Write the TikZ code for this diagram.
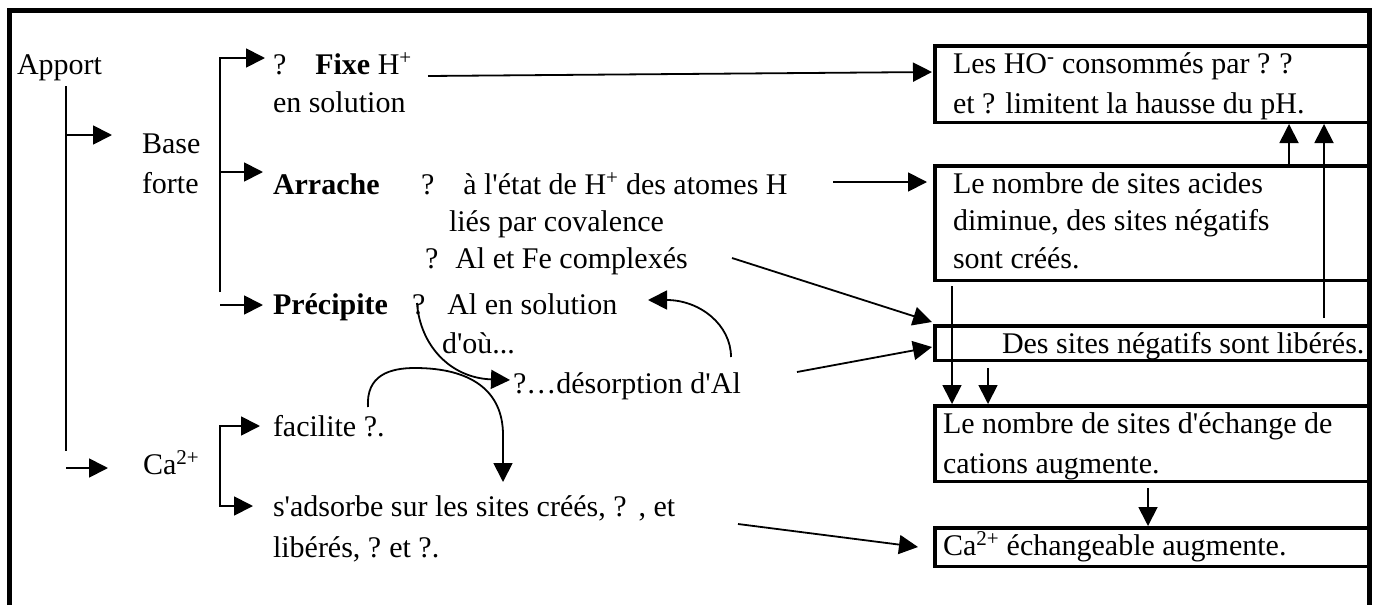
\documentclass[tikz,border=0pt]{standalone}
\usepackage{fontspec}
\setmainfont{Liberation Serif}[Ligatures=TeXOff]
\usetikzlibrary{arrows.meta}
\begin{document}
\begin{tikzpicture}[x=1pt,y=-1pt,
  txt/.style={anchor=base west,inner sep=0pt,outer sep=0pt,font=\fontsize{30}{37.5}\selectfont},
  box/.style={draw,line width=3.5pt,anchor=north west,inner sep=0pt,outer sep=0pt,minimum width=434.75pt},
  conn/.style={line width=1.8pt},
  arr/.style={line width=1.8pt,-{Triangle[length=19pt,width=19pt]}},
  frame/.style={line width=5pt}]
\useasboundingbox (0,0) rectangle (1378,605);
% frame
\coordinate (fbl) at (9.5,605);
\coordinate (ftl) at (9.5,10.5);
\coordinate (ftr) at (1369.5,10.5);
\coordinate (fbr) at (1369.5,605);
\draw[frame] (fbl) -- (ftl) -- (ftr) -- (fbr);

% boxes
\node[box,minimum height=76.5pt] (bA) at (934.75,45.75) {};
\node[box,minimum height=114.5pt] (bB) at (934.75,165.75) {};
\node[box,minimum height=34.5pt] (bC) at (934.75,325.75) {};
\node[box,minimum height=75.5pt] (bD) at (934.75,405.75) {};
\node[box,minimum height=38.5pt] (bE) at (934.75,527.75) {};

% box texts
\node[txt] (tA1) at (953,73) {Les HO\textsuperscript{-} consommés par ?\hspace{9pt}?};
\node[txt] (tA2) at (953,113) {et ?\hspace{10pt}limitent la hausse du pH.};
\node[txt] (tB1) at (953,193) {Le nombre de sites acides};
\node[txt] (tB2) at (953,230) {diminue, des sites négatifs};
\node[txt] (tB3) at (953,268) {sont créés.};
\node[txt] (tC) at (1002,353) {Des sites négatifs sont libérés.};
\node[txt] (tD1) at (943,433) {Le nombre de sites d'échange de};
\node[txt] (tD2) at (943,473) {cations augmente.};
\node[txt] (tE) at (943,555) {Ca\textsuperscript{2+} échangeable augmente.};

% left texts
\node[txt] (apport) at (17,74) {Apport};
\node[txt] (base) at (142,153) {Base};
\node[txt] (forte) at (142,193) {forte};
\node[txt] (fixe) at (273,74) {?\hspace{29pt}\textbf{Fixe} H\textsuperscript{+}};
\node[txt] (ensol) at (273,112) {en solution};
\node[txt] (arrache) at (273,194) {\textbf{Arrache}};
\node[txt] (etat) at (421,194) {?\hspace{29pt}à l'état de H\textsuperscript{+} des atomes H};
\node[txt] (lies) at (449,231) {liés par covalence};
\node[txt] (alfe) at (425,268) {?\hspace{17pt}Al et Fe complexés};
\node[txt] (precip) at (273,314) {\textbf{Précipite}};
\node[txt] (alsol) at (412,314) {?\hspace{22pt}Al en solution};
\node[txt] (dou) at (442,353) {d'où...};
\node[txt] (desorp) at (513,393) {?…désorption d'Al};
\node[txt] (facil) at (273,436) {facilite ?.};
\node[txt] (ca) at (143,474) {Ca\textsuperscript{2+}};
\node[txt] (adsorb) at (273,516) {s'adsorbe sur les sites créés, ?\hspace{12pt}, et};
\node[txt] (liber) at (273,557) {libérés, ?\hspace{8pt}et ?.};

% Apport bracket
\coordinate (ap1) at (66,86);
\coordinate (ap2) at (66,451);
\coordinate (ap3) at (66,135);
\coordinate (ap4) at (112,135);
\coordinate (ap5) at (66,468);
\coordinate (ap6) at (108,468);
\draw[conn] (ap1) -- (ap2);
\draw[arr] (ap3) -- (ap4);
\draw[arr] (ap5) -- (ap6);

% Base bracket
\coordinate (bb1) at (220,58);
\coordinate (bb2) at (220,292);
\coordinate (bb3) at (265,58);
\coordinate (bb4) at (220,172);
\coordinate (bb5) at (263,172);
\coordinate (bb6) at (220,305);
\coordinate (bb7) at (263,305);
\draw[arr] (bb2) -- (bb1) -- (bb3);
\draw[arr] (bb4) -- (bb5);
\draw[arr] (bb6) -- (bb7);

% Ca bracket
\coordinate (cb1) at (260,426);
\coordinate (cb2) at (220,426);
\coordinate (cb3) at (220,506);
\coordinate (cb4) at (253,506);
\draw[arr] (cb3) -- (cb2) -- (cb1);
\draw[arr] (cb2) -- (cb3) -- (cb4);

% long arrows to boxes
\coordinate (f1) at (428,76);
\coordinate (f2) at (932,72);
\draw[arr] (f1) -- (f2);
\coordinate (a1) at (833,182);
\coordinate (a2) at (927,182);
\draw[arr] (a1) -- (a2);
\coordinate (c1) at (732,258);
\coordinate (c2) at (932,322);
\draw[arr] (c1) -- (c2);
\coordinate (d1) at (797,372);
\coordinate (d2) at (932,347);
\draw[arr] (d1) -- (d2);
\coordinate (s1) at (738,524);
\coordinate (s2) at (918,547);
\draw[arr] (s1) -- (s2);

% curves
\coordinate (q1) at (417,303);
\coordinate (q2) at (510,380);
\draw[arr] (q1) .. controls (420,345) and (450,378) .. (q2);
\coordinate (r1) at (731,357);
\coordinate (r2) at (648,300);
\draw[arr] (r1) .. controls (731,325) and (700,300) .. (r2);
\coordinate (u1) at (368,407);
\coordinate (u2) at (415,368);
\coordinate (u3) at (503,435);
\coordinate (u4) at (503,482);
\draw[arr] (u1) .. controls (366,375) and (390,368) .. (u2) .. controls (470,368) and (503,390) .. (u3) -- (u4);

% box-to-box arrows
\coordinate (v1) at (1289,164);
\coordinate (v2) at (1289,124);
\draw[arr] (v1) -- (v2);
\coordinate (w1) at (1324,318);
\coordinate (w2) at (1324,124);
\draw[arr] (w1) -- (w2);
\coordinate (x1) at (952,286);
\coordinate (x2) at (952,404);
\draw[arr] (x1) -- (x2);
\coordinate (y1) at (988,368);
\coordinate (y2) at (988,404);
\draw[arr] (y1) -- (y2);
\coordinate (z1) at (1148,488);
\coordinate (z2) at (1148,526);
\draw[arr] (z1) -- (z2);
\end{tikzpicture}
\end{document}
